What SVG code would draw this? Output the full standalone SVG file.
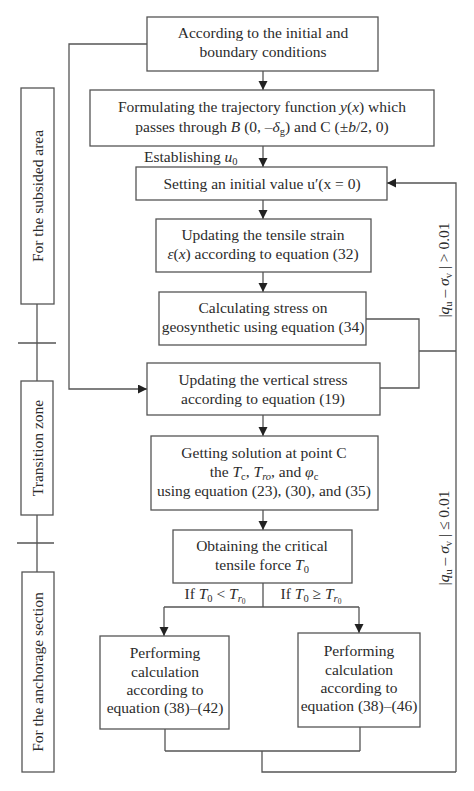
<svg xmlns="http://www.w3.org/2000/svg" width="474" height="791" viewBox="0 0 474 791">
<defs>
<marker id="ah" markerUnits="userSpaceOnUse" markerWidth="10" markerHeight="10" refX="9" refY="4.5" orient="auto">
<path d="M0,0 L9,4.5 L0,9 Z" fill="#222"/>
</marker>
<style>
rect.b{fill:#fff;stroke:#555;stroke-width:1.3}
text{font-family:"Liberation Serif","Times New Roman",serif;font-size:15.5px;fill:#2b2b2b;text-anchor:middle}
.i{font-style:italic}
.s{font-size:10.5px}
#connectors path{fill:none;stroke:#555;stroke-width:1.3}
#connectors path.a{marker-end:url(#ah)}
</style>
</defs>
<rect width="474" height="791" fill="#fff"/>

<g id="connectors">
<path class="a" d="M263,71 V90"/>
<path class="a" d="M263,146 V167"/>
<path class="a" d="M263,200 V219"/>
<path class="a" d="M263,272 V292"/>
<path d="M366,319 H419 V388 H380"/>
<path d="M419,351 H456"/>
<path class="a" d="M456,772 V183 H387"/>
<path class="a" d="M147,44 H69 V389 H147"/>
<path class="a" d="M263,415 V436"/>
<path class="a" d="M263,510 V530"/>
<path d="M263,583 V607 M164,607 H359"/>
<path class="a" d="M164,607 V636"/>
<path class="a" d="M359,607 V633"/>
<path d="M165,729 V751 M360,727 V751 M165,751 H360 M262,751 V772 H456"/>
<path d="M37,304 V381 M18,343 H56 M37,515 V572 M17,543 H54"/>
</g>

<g id="n1">
<rect class="b" x="147" y="17" width="231" height="54"/>
<text x="263" y="38">According to the initial and</text>
<text x="263" y="57">boundary conditions</text>
</g>

<g id="n2">
<rect class="b" x="90" y="90" width="344" height="56"/>
<text x="262" y="112">Formulating the trajectory function <tspan class="i">y</tspan>(<tspan class="i">x</tspan>) which</text>
<text x="262" y="132">passes through <tspan class="i">B</tspan> (0, –<tspan class="i">δ</tspan><tspan class="s" dy="3">g</tspan><tspan dy="-3">) and C (±</tspan><tspan class="i">b</tspan>/2, 0)</text>
</g>

<g id="lbl-u0">
<text x="144" y="162" style="text-anchor:start">Establishing <tspan class="i">u</tspan><tspan class="s" dy="3">0</tspan></text>
</g>

<g id="n3">
<rect class="b" x="136" y="167" width="251" height="33"/>
<text x="262" y="189">Setting an initial value u′(x = 0)</text>
</g>

<g id="n4">
<rect class="b" x="156" y="219" width="215" height="53"/>
<text x="263" y="240">Updating the tensile strain</text>
<text x="263" y="259"><tspan class="i">ε</tspan>(<tspan class="i">x</tspan>) according to equation (32)</text>
</g>

<g id="n5">
<rect class="b" x="159" y="292" width="207" height="53"/>
<text x="263" y="313">Calculating stress on</text>
<text x="263" y="332">geosynthetic using equation (34)</text>
</g>

<g id="n6">
<rect class="b" x="147" y="363" width="233" height="52"/>
<text x="263" y="385">Updating the vertical stress</text>
<text x="263" y="404">according to equation (19)</text>
</g>

<g id="n7">
<rect class="b" x="151" y="436" width="227" height="74"/>
<text x="264" y="458">Getting solution at point C</text>
<text x="264" y="477">the <tspan class="i">T</tspan><tspan class="s" dy="3">c</tspan><tspan dy="-3">, </tspan><tspan class="i">T</tspan><tspan class="s i" dy="3">ro</tspan><tspan dy="-3">, and </tspan><tspan class="i">φ</tspan><tspan class="s" dy="3">c</tspan></text>
<text x="264" y="496">using equation (23), (30), and (35)</text>
</g>

<g id="n8">
<rect class="b" x="173" y="530" width="179" height="53"/>
<text x="262" y="551">Obtaining the critical</text>
<text x="262" y="570">tensile force <tspan class="i">T</tspan><tspan class="s" dy="3">0</tspan></text>
</g>

<g id="lbl-branch">
<text x="215" y="599">If <tspan class="i">T</tspan><tspan class="s" dy="3">0</tspan><tspan dy="-3"> &lt; </tspan><tspan class="i">T</tspan><tspan class="s i" dy="3">r</tspan><tspan style="font-size:7.5px" dy="2">0</tspan></text>
<text x="311" y="599">If <tspan class="i">T</tspan><tspan class="s" dy="3">0</tspan><tspan dy="-3"> ≥ </tspan><tspan class="i">T</tspan><tspan class="s i" dy="3">r</tspan><tspan style="font-size:7.5px" dy="2">0</tspan></text>
</g>

<g id="n9">
<rect class="b" x="100" y="636" width="129" height="93"/>
<text x="165" y="658">Performing</text>
<text x="165" y="677">calculation</text>
<text x="165" y="695">according to</text>
<text x="165" y="713">equation (38)–(42)</text>
</g>

<g id="n10">
<rect class="b" x="298" y="633" width="122" height="94"/>
<text x="359" y="656">Performing</text>
<text x="359" y="675">calculation</text>
<text x="359" y="693">according to</text>
<text x="359" y="711">equation (38)–(46)</text>
</g>

<g id="z1">
<rect class="b" x="21" y="88" width="33" height="216"/>
<text transform="translate(43,196) rotate(-90)">For the subsided area</text>
</g>
<g id="z2">
<rect class="b" x="21" y="381" width="32" height="134"/>
<text transform="translate(43,448) rotate(-90)">Transition zone</text>
</g>
<g id="z3">
<rect class="b" x="22" y="572" width="32" height="200"/>
<text transform="translate(43,672) rotate(-90)">For the anchorage section</text>
</g>

<g id="lbl-cond">
<text transform="translate(449,270) rotate(-90)">|<tspan class="i">q</tspan><tspan class="s" dy="3">u</tspan><tspan dy="-3"> – </tspan><tspan class="i">σ</tspan><tspan class="s" dy="3">v</tspan><tspan dy="-3"> | &gt; 0.01</tspan></text>
<text transform="translate(449,538) rotate(-90)">|<tspan class="i">q</tspan><tspan class="s" dy="3">u</tspan><tspan dy="-3"> – </tspan><tspan class="i">σ</tspan><tspan class="s" dy="3">v</tspan><tspan dy="-3"> | ≤ 0.01</tspan></text>
</g>
</svg>
